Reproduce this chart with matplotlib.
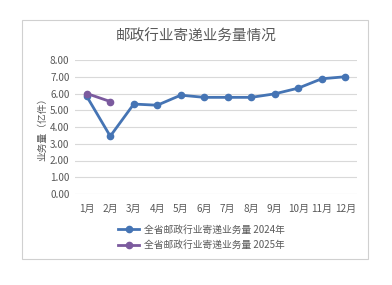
import matplotlib.pyplot as plt
from matplotlib.patches import Rectangle

plt.rcParams['font.family'] = ['Noto Sans CJK SC', 'DejaVu Sans']

months = ['1月', '2月', '3月', '4月', '5月', '6月', '7月', '8月', '9月', '10月', '11月', '12月']
vol_2024 = [5.83, 3.45, 5.37, 5.30, 5.90, 5.77, 5.77, 5.77, 5.98, 6.32, 6.88, 7.00]
vol_2025 = [6.00, 5.52]
yticks = [0, 1, 2, 3, 4, 5, 6, 7, 8]

W, H = 392, 285
fig = plt.figure(figsize=(W / 100, H / 100), dpi=100)
fig.patch.set_facecolor('white')

# chart border
fig.patches.append(Rectangle((22 / W, 1 - 259 / H), 346 / W, 239 / H, transform=fig.transFigure,
                             fill=False, edgecolor='#d0d0d0', lw=0.8))

ax = fig.add_axes([75 / W, 1 - 194 / H, 282 / W, 134 / H])
x = list(range(len(months)))
ax.plot(x, vol_2024, color='#4574B4', lw=2.0, marker='o', ms=4.5, label='全省邮政行业寄递业务量 2024年', zorder=3)
ax.plot(x[:len(vol_2025)], vol_2025, color='#7B5A9E', lw=2.0, marker='o', ms=4.5, label='全省邮政行业寄递业务量 2025年', zorder=4)

ax.set_xlim(-0.5, len(months) - 0.5)
ax.set_ylim(0, 8)
ax.set_yticks(yticks)
ax.set_yticklabels([f'{v:.2f}' for v in yticks])
ax.set_xticks(x)
ax.set_xticklabels(months)
ax.tick_params(length=0, labelsize=7.2, colors='#595959', pad=4)
ax.tick_params(axis='x', pad=7)
ax.grid(axis='y', color='#d9d9d9', lw=0.8)
ax.set_axisbelow(True)
for s in ax.spines.values():
    s.set_visible(False)
ax.set_ylabel('业务量（亿件）', fontsize=7, color='#595959', labelpad=2)

fig.text(196 / W, 1 - 37 / H, '邮政行业寄递业务量情况', ha='center', va='center', fontsize=10.5, color='#595959')

ax.legend(loc='upper left', bbox_to_anchor=(114 / W, 1 - 221 / H), bbox_transform=fig.transFigure,
          frameon=False, fontsize=7, labelcolor='#595959', handlelength=2.2, handletextpad=0.5,
          labelspacing=0.55, borderaxespad=0)

fig.savefig('out.png', dpi=100)
